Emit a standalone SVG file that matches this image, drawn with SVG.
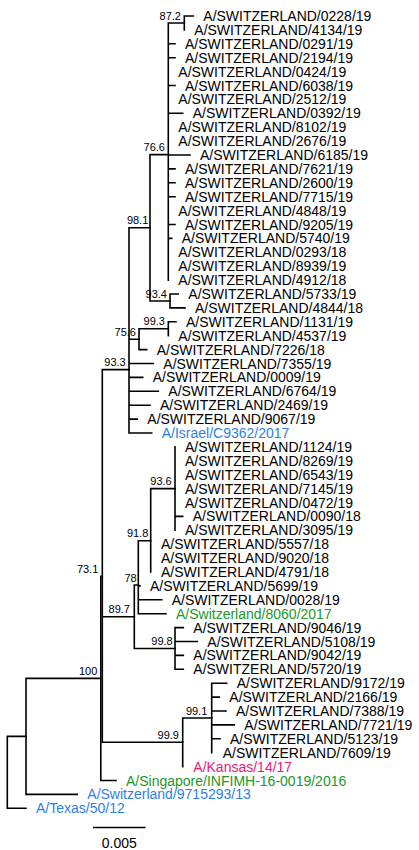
<svg xmlns="http://www.w3.org/2000/svg" width="419" height="850" viewBox="0 0 419 850">
<style>
text{font-family:"Liberation Sans",Arial,sans-serif;}
.lf{font-size:14px;fill:#000;}
.bs{font-size:11px;fill:#000;text-anchor:end;}
.blue{fill:#2f7fe0;}
.green{fill:#23962a;}
.mag{fill:#e6207a;}
.br{stroke:#000;stroke-width:1.6;fill:none;stroke-linecap:square;}
</style>
<rect width="419" height="850" fill="#fff"/>
<g id="connectors" class="br">
<path d="M184.3 16V29.9M184.3 16H193.3"/>
<path d="M168.3 22.95V280.1M168.3 22.95H184.3M168.3 43.8H175M168.3 57.7H175M168.3 85.5H175M168.3 113.3H182.7M168.3 155H190M168.3 168.9H175M168.3 182.8H175M168.3 196.7H175M168.3 224.5H175M168.3 238.4H171.7"/>
<path d="M170 294V307.9M170 294H178.3M170 307.9H185"/>
<path d="M150 154.6V300.95M150 154.6H168.3M150 300.95H170"/>
<path d="M168.3 321.8V335.7M168.3 321.8H176"/>
<path d="M139 328.75V349.6M139 328.75H168.3M139 349.6H146.7"/>
<path d="M129 227.8V433M129 227.8H150M129 339.2H139M129 363.5H153.3M129 377.4H142.7M129 391.3H158.3M129 405.2H150M129 419.1H137.3M129 433H151.7"/>
<path d="M175 446.9V530.3M175 516.4H182.7"/>
<path d="M150.7 488.6V572M150.7 488.6H175"/>
<path d="M138.3 540.7V613.7M138.3 540.7H150.7M138.3 585.9H140M138.3 599.8H161.7M138.3 613.7H166"/>
<path d="M175 627.6V669.3M175 627.6H183.3M175 641.5H197.3M175 655.4H183.3M175 669.3H183.3"/>
<path d="M134.3 585V648.45M134.3 585H138.3M134.3 648.45H175"/>
<path d="M211.7 683.2V752.7M211.7 683.2H226.7M211.7 697.1H219.3M211.7 711H226M211.7 724.9H234.3M211.7 738.8H220"/>
<path d="M182.7 717.95V766.6M182.7 717.95H211.7"/>
<path d="M102.3 369.6V742.3M102.3 369.6H129M102.3 616.7H134.3M102.3 742.3H182.7"/>
<path d="M100.8 576.2V780.5M100.8 576.2H102.3M100.8 780.5H116"/>
<path d="M26 678.35V794.4M26 678.35H100.8M26 794.4H77.3"/>
<path d="M7.3 736.4V808.3M7.3 736.4H26M7.3 808.3H26"/>
</g>
<g id="support">
<text class="bs" x="181" y="19.5">87.2</text>
<text class="bs" x="165" y="151.1">76.6</text>
<text class="bs" x="148.3" y="224.3">98.1</text>
<text class="bs" x="167" y="297.5">93.4</text>
<text class="bs" x="165" y="325.3">99.3</text>
<text class="bs" x="136" y="335.7">75.6</text>
<text class="bs" x="125.7" y="366.1">93.3</text>
<text class="bs" x="171.7" y="485.1">93.6</text>
<text class="bs" x="148.3" y="537.2">91.8</text>
<text class="bs" x="136.7" y="581.5">78</text>
<text class="bs" x="130" y="613.2">89.7</text>
<text class="bs" x="172.7" y="645">99.8</text>
<text class="bs" x="98.3" y="572.7">73.1</text>
<text class="bs" x="97.3" y="674.9">100</text>
<text class="bs" x="207.3" y="714.5">99.1</text>
<text class="bs" x="179" y="738.8">99.9</text>
</g>
<g id="leaf-0228"><text class="lf" x="203.3" y="21">A/SWITZERLAND/0228/19</text></g>
<g id="leaf-4134"><text class="lf" x="194.3" y="34.9">A/SWITZERLAND/4134/19</text></g>
<g id="leaf-0291"><text class="lf" x="185" y="48.8">A/SWITZERLAND/0291/19</text></g>
<g id="leaf-2194"><text class="lf" x="185" y="62.7">A/SWITZERLAND/2194/19</text></g>
<g id="leaf-0424"><text class="lf" x="178.3" y="76.6">A/SWITZERLAND/0424/19</text></g>
<g id="leaf-6038"><text class="lf" x="185" y="90.5">A/SWITZERLAND/6038/19</text></g>
<g id="leaf-2512"><text class="lf" x="178.3" y="104.4">A/SWITZERLAND/2512/19</text></g>
<g id="leaf-0392"><text class="lf" x="192.7" y="118.3">A/SWITZERLAND/0392/19</text></g>
<g id="leaf-8102"><text class="lf" x="178.3" y="132.2">A/SWITZERLAND/8102/19</text></g>
<g id="leaf-2676"><text class="lf" x="178.3" y="146.1">A/SWITZERLAND/2676/19</text></g>
<g id="leaf-6185"><text class="lf" x="200" y="160">A/SWITZERLAND/6185/19</text></g>
<g id="leaf-7621"><text class="lf" x="185" y="173.9">A/SWITZERLAND/7621/19</text></g>
<g id="leaf-2600"><text class="lf" x="185" y="187.8">A/SWITZERLAND/2600/19</text></g>
<g id="leaf-7715"><text class="lf" x="185" y="201.7">A/SWITZERLAND/7715/19</text></g>
<g id="leaf-4848"><text class="lf" x="178.3" y="215.6">A/SWITZERLAND/4848/19</text></g>
<g id="leaf-9205"><text class="lf" x="185" y="229.5">A/SWITZERLAND/9205/19</text></g>
<g id="leaf-5740"><text class="lf" x="181.7" y="243.4">A/SWITZERLAND/5740/19</text></g>
<g id="leaf-0293"><text class="lf" x="178.3" y="257.3">A/SWITZERLAND/0293/18</text></g>
<g id="leaf-8939"><text class="lf" x="178.3" y="271.2">A/SWITZERLAND/8939/19</text></g>
<g id="leaf-4912"><text class="lf" x="178.3" y="285.1">A/SWITZERLAND/4912/18</text></g>
<g id="leaf-5733"><text class="lf" x="188.3" y="299">A/SWITZERLAND/5733/19</text></g>
<g id="leaf-4844"><text class="lf" x="195" y="312.9">A/SWITZERLAND/4844/18</text></g>
<g id="leaf-1131"><text class="lf" x="186" y="326.8">A/SWITZERLAND/1131/19</text></g>
<g id="leaf-4537"><text class="lf" x="178.3" y="340.7">A/SWITZERLAND/4537/19</text></g>
<g id="leaf-7226"><text class="lf" x="156.7" y="354.6">A/SWITZERLAND/7226/18</text></g>
<g id="leaf-7355"><text class="lf" x="163.3" y="368.5">A/SWITZERLAND/7355/19</text></g>
<g id="leaf-0009"><text class="lf" x="152.7" y="382.4">A/SWITZERLAND/0009/19</text></g>
<g id="leaf-6764"><text class="lf" x="168.3" y="396.3">A/SWITZERLAND/6764/19</text></g>
<g id="leaf-2469"><text class="lf" x="160" y="410.2">A/SWITZERLAND/2469/19</text></g>
<g id="leaf-9067"><text class="lf" x="147.3" y="424.1">A/SWITZERLAND/9067/19</text></g>
<g id="leaf-israel"><text class="lf blue" x="161.7" y="438">A/Israel/C9362/2017</text></g>
<g id="leaf-1124"><text class="lf" x="185" y="451.9">A/SWITZERLAND/1124/19</text></g>
<g id="leaf-8269"><text class="lf" x="185" y="465.8">A/SWITZERLAND/8269/19</text></g>
<g id="leaf-6543"><text class="lf" x="185" y="479.7">A/SWITZERLAND/6543/19</text></g>
<g id="leaf-7145"><text class="lf" x="185" y="493.6">A/SWITZERLAND/7145/19</text></g>
<g id="leaf-0472"><text class="lf" x="185" y="507.5">A/SWITZERLAND/0472/19</text></g>
<g id="leaf-0090"><text class="lf" x="192.7" y="521.4">A/SWITZERLAND/0090/18</text></g>
<g id="leaf-3095"><text class="lf" x="185" y="535.3">A/SWITZERLAND/3095/19</text></g>
<g id="leaf-5557"><text class="lf" x="161" y="549.2">A/SWITZERLAND/5557/18</text></g>
<g id="leaf-9020"><text class="lf" x="161" y="563.1">A/SWITZERLAND/9020/18</text></g>
<g id="leaf-4791"><text class="lf" x="161" y="577">A/SWITZERLAND/4791/18</text></g>
<g id="leaf-5699"><text class="lf" x="150" y="590.9">A/SWITZERLAND/5699/19</text></g>
<g id="leaf-0028"><text class="lf" x="171.7" y="604.8">A/SWITZERLAND/0028/19</text></g>
<g id="leaf-sw8060"><text class="lf green" x="176" y="618.7">A/Switzerland/8060/2017</text></g>
<g id="leaf-9046"><text class="lf" x="193.3" y="632.6">A/SWITZERLAND/9046/19</text></g>
<g id="leaf-5108"><text class="lf" x="207.3" y="646.5">A/SWITZERLAND/5108/19</text></g>
<g id="leaf-9042"><text class="lf" x="193.3" y="660.4">A/SWITZERLAND/9042/19</text></g>
<g id="leaf-5720"><text class="lf" x="193.3" y="674.3">A/SWITZERLAND/5720/19</text></g>
<g id="leaf-9172"><text class="lf" x="236.7" y="688.2">A/SWITZERLAND/9172/19</text></g>
<g id="leaf-2166"><text class="lf" x="229.3" y="702.1">A/SWITZERLAND/2166/19</text></g>
<g id="leaf-7388"><text class="lf" x="236" y="716">A/SWITZERLAND/7388/19</text></g>
<g id="leaf-7721"><text class="lf" x="244.3" y="729.9">A/SWITZERLAND/7721/19</text></g>
<g id="leaf-5123"><text class="lf" x="230" y="743.8">A/SWITZERLAND/5123/19</text></g>
<g id="leaf-7609"><text class="lf" x="222.7" y="757.7">A/SWITZERLAND/7609/19</text></g>
<g id="leaf-kansas"><text class="lf mag" x="193.3" y="771.6">A/Kansas/14/17</text></g>
<g id="leaf-singapore"><text class="lf green" x="126" y="785.5">A/Singapore/INFIMH-16-0019/2016</text></g>
<g id="leaf-sw9715293"><text class="lf blue" x="87.3" y="799.4">A/Switzerland/9715293/13</text></g>
<g id="leaf-texas"><text class="lf blue" x="36" y="813.3">A/Texas/50/12</text></g>
<g id="scale">
<line x1="93" y1="827.5" x2="145.5" y2="827.5" stroke="#000" stroke-width="1.6"/>
<text class="lf" x="119.3" y="848" text-anchor="middle">0.005</text>
</g>
</svg>
